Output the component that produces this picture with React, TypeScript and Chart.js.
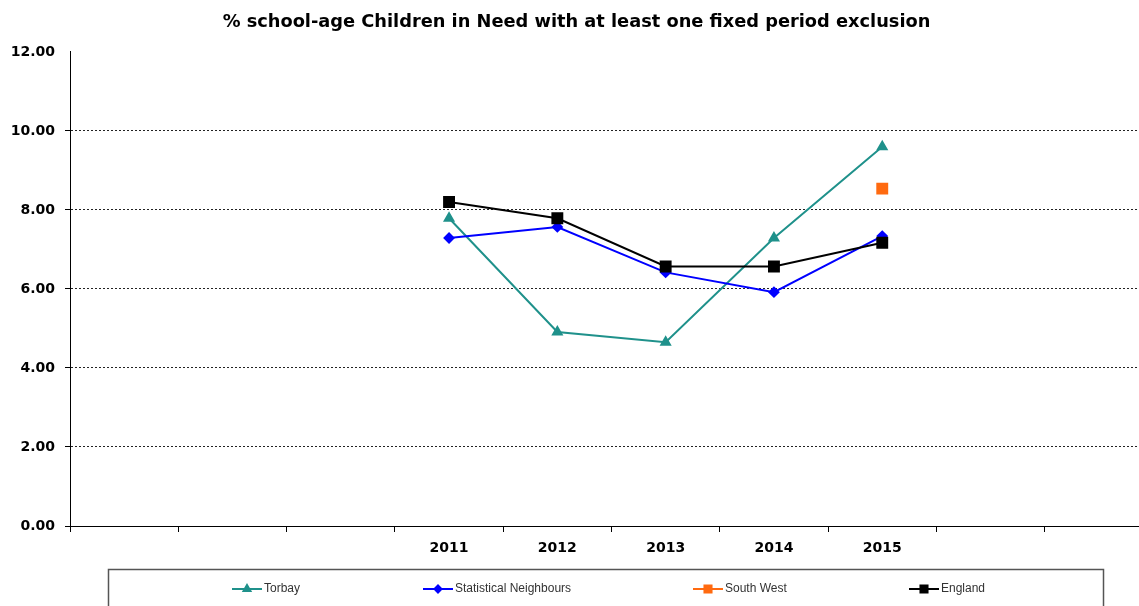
import React, { useEffect, useRef } from 'react';
import { Chart, registerables } from 'chart.js';
import { drawPoint } from 'chart.js/helpers';

Chart.register(...registerables);

const TITLE = '% school-age Children in Need with at least one fixed period exclusion';
const CATEGORIES = ['', '', '', '2011', '2012', '2013', '2014', '2015', '', ''];
const TORBAY = [null, null, null, 7.79, 4.91, 4.65, 7.29, 9.6, null, null];
const STAT_NEIGHBOURS = [null, null, null, 7.29, 7.57, 6.42, 5.92, 7.34, null, null];
const SOUTH_WEST = [null, null, null, null, null, null, null, 8.54, null, null];
const ENGLAND = [null, null, null, 8.2, 7.79, 6.57, 6.57, 7.17, null, null];
const Y_TICKS = [0, 2, 4, 6, 8, 10, 12];

const LEGEND_X = [232, 423, 693, 909];

const legendPlugin = {
  id: 'boxLegend',
  afterDraw(chart: any) {
    const ctx = chart.ctx;
    ctx.save();
    ctx.setLineDash([]);
    ctx.strokeStyle = '#555';
    ctx.lineWidth = 1.5;
    ctx.strokeRect(108.5, 569.5, 995, 80);
    chart.data.datasets.forEach((ds: any, i: number) => {
      const x = LEGEND_X[i];
      const y = 589;
      ctx.strokeStyle = ds.borderColor;
      ctx.lineWidth = 2;
      ctx.beginPath();
      ctx.moveTo(x, y);
      ctx.lineTo(x + 30, y);
      ctx.stroke();
      ctx.fillStyle = ds.pointBackgroundColor;
      ctx.strokeStyle = ds.pointBorderColor;
      drawPoint(ctx, { pointStyle: ds.pointStyle, radius: ds.legendRadius, rotation: 0, borderWidth: 1 }, x + 15, y);
      ctx.fillStyle = '#333';
      ctx.font = '12px "Liberation Sans", Arial, sans-serif';
      ctx.textBaseline = 'middle';
      ctx.textAlign = 'left';
      ctx.fillText(ds.label, x + 32, y);
    });
    ctx.restore();
  },
};

export default function App() {
  const ref = useRef<HTMLCanvasElement>(null);

  useEffect(() => {
    if (!ref.current) return;
    const tickFont = { family: '"DejaVu Sans", Verdana, sans-serif', size: 14, weight: 'bold' as const };
    const chart = new Chart(ref.current, {
      type: 'line',
      data: {
        labels: CATEGORIES,
        datasets: [
          {
            label: 'Torbay',
            data: TORBAY,
            borderColor: '#1f918b',
            backgroundColor: '#1f918b',
            pointBackgroundColor: '#1f918b',
            pointBorderColor: '#1f918b',
            pointStyle: 'triangle',
            pointRadius: 5,
            borderWidth: 2,
            order: 4,
            legendRadius: 4,
          } as any,
          {
            label: 'Statistical Neighbours',
            data: STAT_NEIGHBOURS,
            borderColor: '#0000ff',
            backgroundColor: '#0000ff',
            pointBackgroundColor: '#0000ff',
            pointBorderColor: '#0000ff',
            pointStyle: 'rectRot',
            pointRadius: 4.5,
            borderWidth: 2,
            order: 3,
            legendRadius: 3.5,
          } as any,
          {
            label: 'South West',
            data: SOUTH_WEST,
            borderColor: '#ff6a10',
            backgroundColor: '#ff6a10',
            pointBackgroundColor: '#ff6a10',
            pointBorderColor: '#ff6a10',
            pointStyle: 'rect',
            pointRadius: 7,
            borderWidth: 2,
            showLine: false,
            order: 2,
            legendRadius: 5,
          } as any,
          {
            label: 'England',
            data: ENGLAND,
            borderColor: '#000000',
            backgroundColor: '#000000',
            pointBackgroundColor: '#000000',
            pointBorderColor: '#000000',
            pointStyle: 'rect',
            pointRadius: 7,
            borderWidth: 2,
            order: 1,
            legendRadius: 5,
          } as any,
        ],
      },
      options: {
        responsive: false,
        animation: false,
        devicePixelRatio: 1,
        layout: { padding: 0, autoPadding: false },
        plugins: {
          legend: { display: false },
          tooltip: { enabled: false },
          title: {
            display: true,
            text: TITLE,
            color: '#000',
            font: { family: '"DejaVu Sans", Verdana, sans-serif', size: 17.8, weight: 'bold' },
            padding: { top: 12, bottom: 18.6 },
          },
        },
        scales: {
          x: {
            type: 'category',
            offset: true,
            grid: {
              display: true,
              drawOnChartArea: false,
              offset: true,
              tickLength: 6,
              color: '#000',
              tickColor: '#000',
            },
            border: { display: true, color: '#000', width: 1 },
            ticks: { font: tickFont, color: '#000', padding: 8, autoSkip: false, maxRotation: 0 },
            afterFit: (s: any) => {
              s.height = 80;
            },
          },
          y: {
            min: 0,
            max: 12,
            afterBuildTicks: (s: any) => {
              s.ticks = Y_TICKS.map((v) => ({ value: v }));
            },
            ticks: {
              font: tickFont,
              color: '#000',
              padding: 10,
              callback: (v: any) => Number(v).toFixed(2),
            },
            grid: {
              color: (c: any) => (c.tick && (c.tick.value === 0 || c.tick.value === 12) ? 'rgba(0,0,0,0)' : '#222'),
              tickColor: (c: any) => (c.tick && c.tick.value === 12 ? 'rgba(0,0,0,0)' : '#000'),
              tickBorderDash: [],
              tickLength: 5,
              lineWidth: 1,
            },
            border: { display: true, color: '#000', width: 1, dash: [2, 2] },
            afterFit: (s: any) => {
              s.width = 70;
            },
          },
        },
      },
      plugins: [legendPlugin],
    });
    return () => chart.destroy();
  }, []);

  return (
    <div
      style={{
        position: 'fixed',
        left: 0,
        top: 0,
        width: 1139,
        height: 606,
        overflow: 'hidden',
        background: '#fff',
      }}
    >
      <canvas ref={ref} width={1153} height={606} style={{ display: 'block', width: 1153, height: 606 }} />
    </div>
  );
}
